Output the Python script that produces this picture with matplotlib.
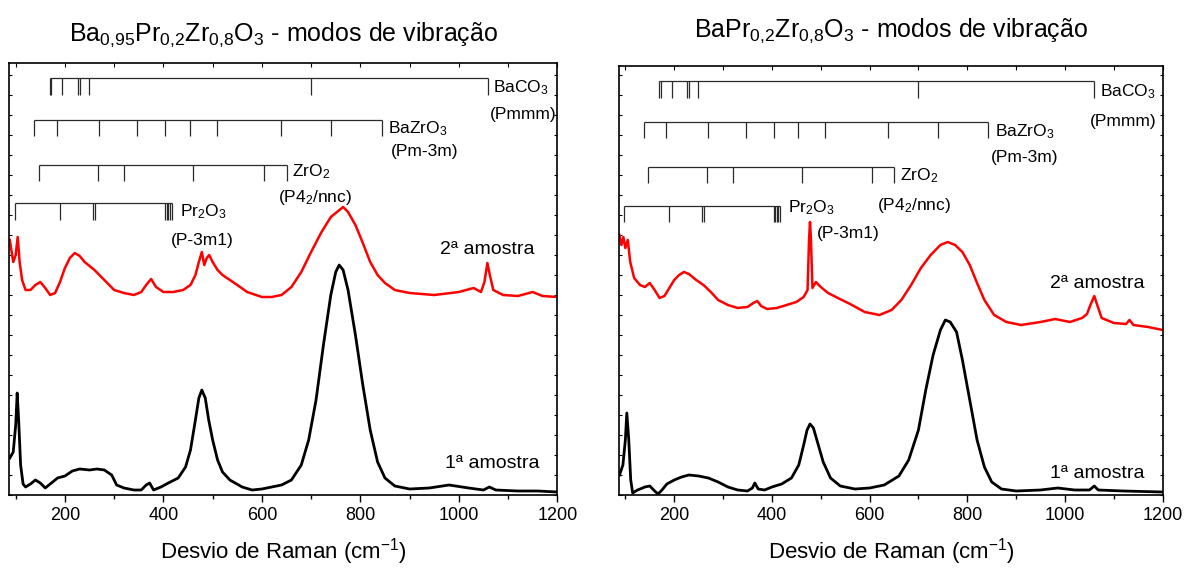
import matplotlib
matplotlib.use("Agg")
import matplotlib.pyplot as plt
from matplotlib.ticker import MultipleLocator

plt.rcParams['font.family'] = ['Liberation Sans', 'DejaVu Sans']
plt.rcParams['mathtext.fontset'] = 'custom'
plt.rcParams['mathtext.rm'] = 'Liberation Sans'
plt.rcParams['mathtext.it'] = 'Liberation Sans:italic'
plt.rcParams['mathtext.bf'] = 'Liberation Sans:bold'

# ---------------- data ----------------
titles = [r'Ba$_{0{,}95}$Pr$_{0{,}2}$Zr$_{0{,}8}$O$_3$ - modos de vibração',
          r'BaPr$_{0{,}2}$Zr$_{0{,}8}$O$_3$ - modos de vibração']
xlabel = r'Desvio de Raman (cm$^{-1}$)'
sample_labels = ['2ª amostra', '1ª amostra']
xticks = [200, 400, 600, 800, 1000, 1200]

# reference mode positions (cm-1)
baco3_modes = [169, 172, 195, 227, 231, 248, 700, 1060]
bazro3_modes = [138, 184, 270, 347, 404, 453, 508, 638, 741, 843]
zro2_modes = [147, 268, 320, 461, 604, 650]
pr2o3_modes = [98, 189, 257, 262, 404, 407, 410, 413, 417]
phase_names = [r'BaCO$_3$', r'BaZrO$_3$', r'ZrO$_2$', r'Pr$_2$O$_3$']
phase_groups = ['(Pmmm)', '(Pm-3m)', r'(P4$_2$/nnc)', '(P-3m1)']

# left panel spectra (Ba0,95Pr0,2Zr0,8O3)
left_red_w = [88, 95, 100, 104, 108, 113, 120, 130, 140, 150, 160, 170, 180, 190, 200,
              210, 220, 230, 240, 250, 260, 270, 280, 290, 300, 320, 340, 355, 365, 375,
              385, 400, 420, 440, 455, 465, 472, 478, 483, 488, 493, 500, 510, 520, 535,
              550, 570, 600, 620, 640, 660, 680, 700, 720, 740, 755, 765, 775, 790, 805,
              820, 835, 850, 870, 900, 950, 1000, 1030, 1045, 1052, 1058, 1063, 1070, 1090,
              1120, 1150, 1170, 1200]
left_red_i = [255, 233, 240, 258, 233, 215, 205, 205, 210, 213, 207, 200, 202, 213, 227,
              237, 242, 239, 233, 229, 225, 220, 215, 210, 205, 202, 200, 203, 210, 216,
              208, 203, 203, 205, 210, 220, 233, 243, 230, 237, 240, 233, 225, 220, 215,
              210, 203, 198, 198, 200, 208, 223, 243, 262, 278, 284, 288, 283, 270, 252,
              233, 220, 212, 205, 202, 200, 203, 207, 203, 213, 232, 220, 205, 200,
              199, 203, 199, 198]
left_black_w = [88, 95, 100, 103, 106, 110, 115, 120, 130, 140, 150, 160, 170, 185, 200,
                215, 230, 250, 265, 280, 295, 305, 320, 340, 355, 365, 372, 380, 395, 410,
                430, 445, 455, 465, 472, 478, 485, 492, 500, 510, 520, 535, 560, 580, 600,
                620, 640, 660, 680, 695, 710, 725, 740, 750, 757, 765, 775, 790, 805, 820,
                835, 850, 870, 900, 940, 980, 1020, 1050, 1062, 1075, 1120, 1160, 1200]
left_black_i = [37, 43, 70, 102, 75, 30, 11, 8, 11, 15, 12, 7, 11, 17, 19,
                24, 26, 25, 26, 25, 20, 10, 7, 5, 5, 10, 12, 5, 8, 12,
                17, 28, 45, 75, 97, 105, 97, 75, 55, 35, 23, 15, 8, 5, 6,
                8, 10, 15, 30, 55, 95, 150, 200, 223, 230, 225, 205, 160, 110, 65,
                33, 17, 9, 6, 7, 10, 7, 5, 8, 5, 4, 4, 3]

# right panel spectra (BaPr0,2Zr0,8O3)
right_red_w = [88, 92, 96, 100, 105, 110, 118, 130, 140, 150, 160, 170, 180, 190, 200,
               210, 220, 230, 245, 260, 275, 290, 310, 330, 350, 362, 370, 378, 390, 410,
               430, 450, 465, 473, 476, 478, 480, 483, 490, 500, 515, 535, 560, 590, 620,
               645, 665, 685, 705, 725, 745, 760, 775, 790, 805, 820, 835, 855, 880, 910,
               950, 980, 1010, 1035, 1045, 1052, 1060, 1066, 1075, 1100, 1125, 1132, 1140,
               1170, 1200]
right_red_i = [260, 250, 258, 247, 255, 233, 217, 210, 208, 212, 205, 197, 199, 207, 215,
               220, 223, 221, 215, 210, 203, 195, 190, 187, 188, 192, 194, 189, 186, 187,
               190, 193, 198, 205, 255, 273, 255, 207, 213, 208, 202, 197, 191, 183, 180,
               185, 195, 210, 227, 240, 250, 253, 250, 243, 230, 212, 195, 180, 173, 170,
               173, 176, 173, 177, 181, 190, 199, 190, 177, 172, 171, 175, 170,
               168, 165]
right_black_w = [88, 95, 100, 103, 107, 111, 115, 125, 140, 150, 160, 167, 175, 185, 200,
                 215, 230, 250, 270, 290, 310, 330, 350, 360, 365, 372, 385, 400, 420, 440,
                 455, 465, 472, 478, 485, 495, 505, 520, 540, 570, 600, 630, 660, 680, 700,
                 715, 730, 745, 755, 765, 778, 790, 805, 820, 835, 850, 870, 900, 950, 985,
                 1020, 1050, 1060, 1068, 1120, 1200]
right_black_i = [20, 30, 55, 82, 55, 15, 2, 5, 8, 9, 4, 1, 5, 11, 15,
                 18, 20, 19, 17, 13, 8, 5, 4, 7, 12, 6, 5, 8, 11, 17,
                 30, 50, 65, 71, 67, 50, 33, 17, 9, 6, 7, 10, 19, 35, 65,
                 105, 140, 165, 175, 173, 163, 135, 95, 55, 28, 13, 6, 4, 5, 7,
                 5, 5, 9, 5, 4, 3]

# ---------------- figure ----------------
W, H = 1185, 569
fig = plt.figure(figsize=(W / 100, H / 100), dpi=100)
ax_l = fig.add_axes([9.3 / W, (H - 495) / H, (557.3 - 9.3) / W, (495 - 63.3) / H])
ax_r = fig.add_axes([619 / W, (H - 495) / H, (1162.7 - 619) / W, (495 - 66) / H])

bracket_color = '#2a2a2a'


def draw_bracket(ax, modes, y_top, y_bot):
    ax.hlines(y_top, min(modes), max(modes), color=bracket_color, lw=0.9)
    ax.vlines(modes, y_bot, y_top, color=bracket_color, lw=0.9)


panels = [
    dict(ax=ax_l, ylim=431.7, red=(left_red_w, left_red_i), black=(left_black_w, left_black_i),
         levels=[(417.5, 400), (375.5, 359), (329.8, 314.2), (292, 275)],
         name_pos=[(1069, 407), (856, 366), (661, 323.5), (433, 283)],
         group_pos=[(1063, 381), (862, 344), (633, 297.5), (415, 254)],
         sample_pos=[(962, 245), (972, 32)], title_pad=16),
    dict(ax=ax_r, ylim=429.0, red=(right_red_w, right_red_i), black=(right_black_w, right_black_i),
         levels=[(413.6, 397), (373, 357), (328, 312.5), (289.2, 273.4)],
         name_pos=[(1072, 403.6), (857, 363), (662, 319), (433, 287.4)],
         group_pos=[(1051, 374), (848, 337.2), (616, 289.2), (492, 261.6)],
         sample_pos=[(969, 211), (969, 21)], title_pad=21),
]

mode_sets = [baco3_modes, bazro3_modes, zro2_modes, pr2o3_modes]

for i, p in enumerate(panels):
    ax = p['ax']
    ax.plot(p['black'][0], p['black'][1], color='black', lw=2.0)
    ax.plot(p['red'][0], p['red'][1], color='#ff0000', lw=1.8)
    for modes, (yt, yb) in zip(mode_sets, p['levels']):
        draw_bracket(ax, modes, yt, yb)
    for name, (x, y) in zip(phase_names, p['name_pos']):
        ax.text(x, y, name, fontsize=12.5, ha='left', va='center')
    for grp, (x, y) in zip(phase_groups, p['group_pos']):
        ax.text(x, y, grp, fontsize=12.5, ha='left', va='center')
    for lab, (x, y) in zip(sample_labels, p['sample_pos']):
        ax.text(x, y, lab, fontsize=14, ha='left', va='center')

    ax.set_xlim(87, 1200)
    ax.set_ylim(0, p['ylim'])
    ax.set_xticks(xticks)
    ax.xaxis.set_minor_locator(MultipleLocator(100))
    ax.yaxis.set_major_locator(MultipleLocator(20))
    ax.set_yticklabels([])
    ax.tick_params(axis='x', which='major', direction='out', length=5, width=1,
                   labelsize=13, pad=4)
    ax.tick_params(axis='x', which='minor', direction='out', length=3, width=1)
    ax.tick_params(axis='x', which='both', top=False)
    ax.tick_params(axis='y', which='both', direction='in', length=2, width=0.8,
                   left=True, right=True, labelleft=False)
    # top inward ticks
    sec = ax.secondary_xaxis('top')
    sec.set_xticks([100, 200, 300, 400, 500, 600, 700, 800, 900, 1000, 1100, 1200])
    sec.tick_params(direction='in', length=3, width=0.8, labeltop=False)
    sec.spines['top'].set_visible(False)
    for s in ax.spines.values():
        s.set_linewidth(1.2)
    ax.set_xlabel(xlabel, fontsize=16, labelpad=8)
    ax.set_title(titles[i], fontsize=18, pad=p['title_pad'])

fig.savefig('out.png', dpi=100)
